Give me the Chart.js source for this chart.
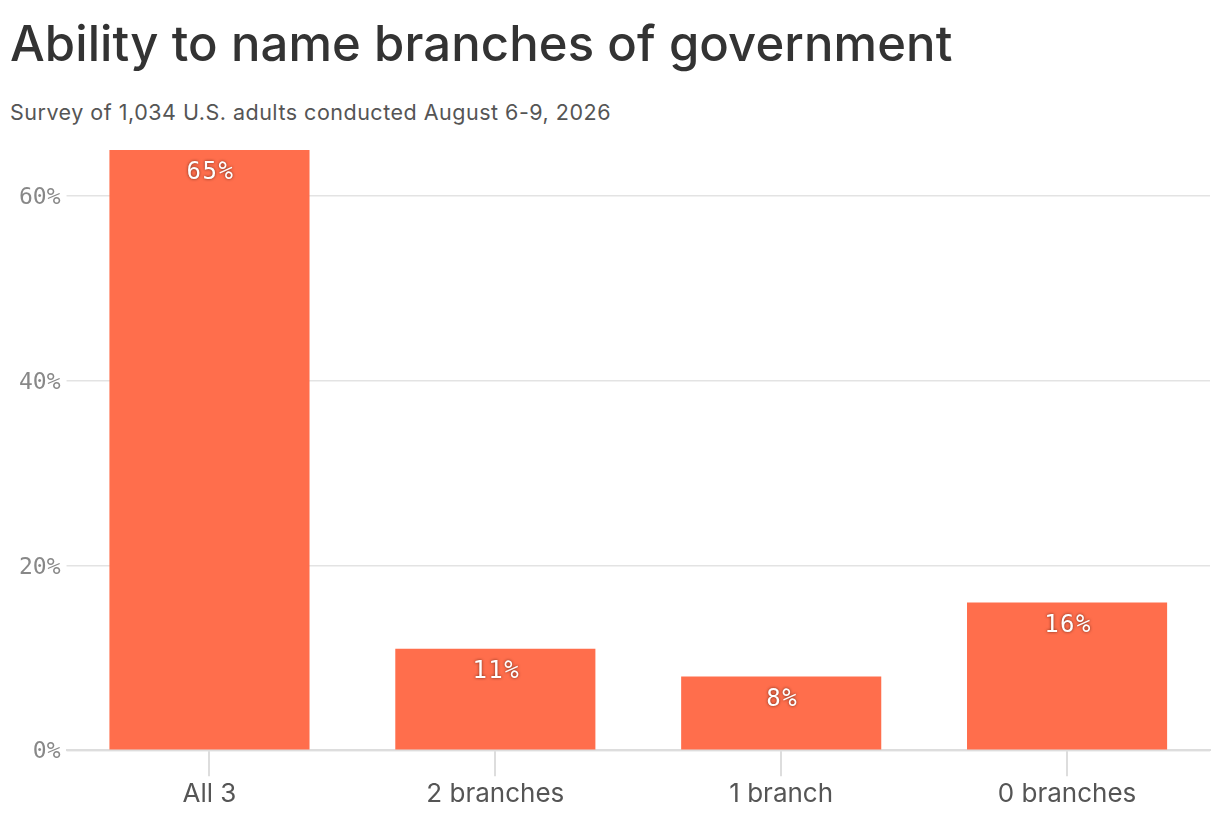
<!DOCTYPE html>
<html>
<head>
<meta charset="utf-8">
<script src="https://cdn.jsdelivr.net/npm/chart.js@4/dist/chart.umd.min.js"></script>
<style>
  html, body { margin: 0; padding: 0; background: #fff; width: 1220px; height: 826px; overflow: hidden; }
  #title { position: absolute; left: 10px; top: 14px; margin: 0; font-family: Inter, "Noto Sans", sans-serif; font-weight: 500; font-size: 49px; color: #333; letter-spacing: 0.1px; white-space: nowrap; }
  #subtitle { position: absolute; left: 10px; top: 99px; margin: 0; font-family: Inter, "Noto Sans", sans-serif; font-weight: 400; font-size: 21.5px; color: #555; letter-spacing: 0.5px; white-space: nowrap; }
  #wrap { position: absolute; left: 0; top: 130px; width: 1220px; height: 696px; }
</style>
</head>
<body>
<h1 id="title">Ability to name branches of government</h1>
<p id="subtitle">Survey of 1,034 U.S. adults conducted August 6-9, 2026</p>
<div id="wrap"><canvas id="c"></canvas></div>
<script>
const categories = ["All 3", "2 branches", "1 branch", "0 branches"];
const values = [65, 11, 8, 16];
const yTicks = [0, 20, 40, 60];

const barLabels = {
  id: 'barLabels',
  afterDatasetsDraw(chart) {
    const ctx = chart.ctx;
    const meta = chart.getDatasetMeta(0);
    ctx.save();
    ctx.font = '24px "DejaVu Sans Mono", "Liberation Mono", monospace';
    try { ctx.letterSpacing = '1.5px'; } catch (e) {}
    ctx.textAlign = 'center';
    ctx.textBaseline = 'middle';
    ctx.fillStyle = '#fff';
    ctx.shadowColor = 'rgba(60,20,10,0.75)';
    ctx.shadowBlur = 3;
    meta.data.forEach((bar, i) => {
      ctx.fillText(values[i] + '%', bar.x + 1, bar.y + 23);
    });
    ctx.restore();
  }
};

new Chart(document.getElementById('c'), {
  type: 'bar',
  data: {
    labels: categories,
    datasets: [{
      data: values,
      backgroundColor: '#FF6E4C',
      borderWidth: 0,
      barPercentage: 0.7,
      categoryPercentage: 1.0
    }]
  },
  options: {
    responsive: true,
    maintainAspectRatio: false,
    animation: false,
    layout: { padding: { top: 20, right: 10, left: 13, bottom: 14.5 } },
    plugins: { legend: { display: false }, tooltip: { enabled: false } },
    scales: {
      x: {
        grid: { offset: false, drawOnChartArea: false, tickLength: 26, color: '#dddddd', lineWidth: 2 },
        border: { display: true, color: '#dddddd', width: 2 },
        ticks: { color: '#555', padding: 2, font: { family: 'Inter, "Noto Sans", sans-serif', size: 26 } }
      },
      y: {
        min: 0,
        max: 65,
        afterBuildTicks(axis) { axis.ticks = yTicks.map(v => ({ value: v })); },
        grid: { color: '#e3e3e3', lineWidth: 1.5, tickLength: 0 },
        border: { display: false },
        ticks: {
          color: '#888',
          padding: 6,
          labelOffset: 2,
          font: { family: '"DejaVu Sans Mono", "Liberation Mono", monospace', size: 23 },
          callback: v => v + '%'
        }
      }
    }
  },
  plugins: [barLabels]
});
</script>
</body>
</html>
